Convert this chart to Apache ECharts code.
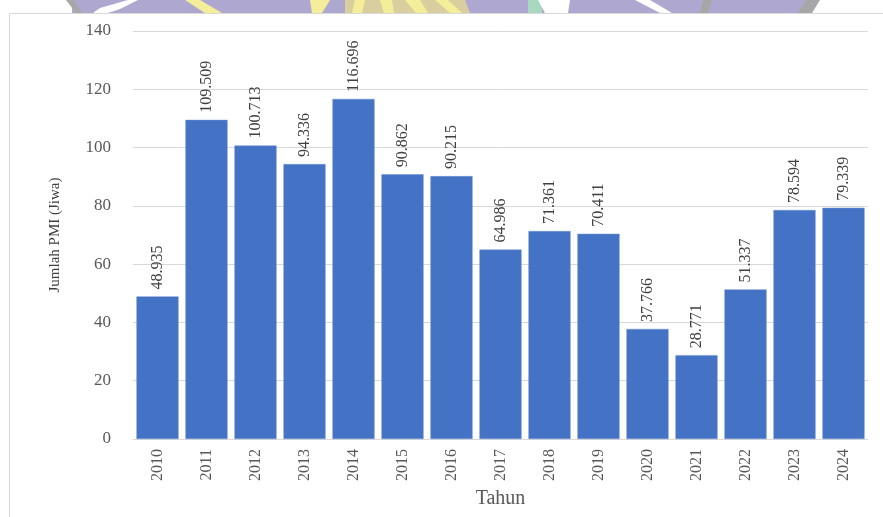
<!DOCTYPE html>
<html>
<head>
<meta charset="utf-8">
<script src="https://cdn.jsdelivr.net/npm/echarts@6/dist/echarts.min.js"></script>
<style>
html,body{margin:0;padding:0;background:#fff;}
#chart{width:883px;height:517px;}
</style>
</head>
<body>
<div id="chart"></div>
<script>
const years = ['2010','2011','2012','2013','2014','2015','2016','2017','2018','2019','2020','2021','2022','2023','2024'];
const pmiValues = [48.935, 109.509, 100.713, 94.336, 116.696, 90.862, 90.215, 64.986, 71.361, 70.411, 37.766, 28.771, 51.337, 78.594, 79.339];
const yTicks = { min: 0, max: 140, interval: 20 };
const yAxisTitle = 'Jumlah PMI (Jiwa)';
const xAxisTitle = 'Tahun';

const serif = '"Liberation Serif", "Times New Roman", serif';
const chart = echarts.init(document.getElementById('chart'), null, { renderer: 'canvas' });

chart.setOption({
  backgroundColor: '#ffffff',
  animation: false,
  graphic: [
    // faded watermark strip above the frame
    { type: 'rect', z: -10, shape: { x: 72, y: 0, width: 735, height: 13 }, style: { fill: '#aea8d0' } },
    { type: 'polygon', z: -9, shape: { points: [[93,13],[100,8],[128,0],[138,0],[120,9],[108,13]] }, style: { fill: '#ffffff' } },
    { type: 'polygon', z: -9, shape: { points: [[185,0],[200,0],[222,13],[205,13]] }, style: { fill: '#f4ee9a' } },
    { type: 'polygon', z: -9, shape: { points: [[310,0],[330,0],[322,13],[312,13]] }, style: { fill: '#f4ee9a' } },
    { type: 'polygon', z: -9, shape: { points: [[345,0],[465,0],[470,13],[345,13]] }, style: { fill: '#d9cf9e' } },
    { type: 'polygon', z: -9, shape: { points: [[355,0],[365,0],[362,13],[352,13]] }, style: { fill: '#f4ee9a' } },
    { type: 'polygon', z: -9, shape: { points: [[380,0],[392,0],[394,13],[384,13]] }, style: { fill: '#f4ee9a' } },
    { type: 'polygon', z: -9, shape: { points: [[405,0],[420,0],[428,13],[416,13]] }, style: { fill: '#f4ee9a' } },
    { type: 'polygon', z: -9, shape: { points: [[435,0],[448,0],[462,13],[450,13]] }, style: { fill: '#f4ee9a' } },
    { type: 'rect', z: -9, shape: { x: 528, y: 0, width: 14, height: 13 }, style: { fill: '#a9d8c0' } },
    { type: 'polygon', z: -9, shape: { points: [[538,0],[570,0],[568,13],[545,13]] }, style: { fill: '#ffffff' } },
    { type: 'polygon', z: -9, shape: { points: [[635,0],[650,0],[672,13],[660,13]] }, style: { fill: '#ffffff' } },
    { type: 'polygon', z: -9, shape: { points: [[66,0],[74,0],[82,13],[76,13]] }, style: { fill: '#a7a7a7' } },
    { type: 'polygon', z: -9, shape: { points: [[703,0],[712,0],[708,13],[700,13]] }, style: { fill: '#a7a7a7' } },
    { type: 'polygon', z: -9, shape: { points: [[806,0],[820,0],[812,13],[798,13]] }, style: { fill: '#a7a7a7' } },
    // chart frame
    { type: 'rect', z: -5, shape: { x: 9.5, y: 13.5, width: 890, height: 520 }, style: { fill: '#ffffff', stroke: '#d9d9d9', lineWidth: 1 } }
  ],
  grid: { left: 133, right: 15, top: 31, bottom: 78, containLabel: false },
  xAxis: {
    type: 'category',
    data: years,
    name: xAxisTitle,
    nameLocation: 'middle',
    nameGap: 45,
    nameTextStyle: { fontFamily: serif, fontSize: 20, color: '#595959' },
    axisLine: { show: true, lineStyle: { color: '#d9d9d9', width: 1 } },
    axisTick: { show: false },
    axisLabel: { rotate: 90, margin: 10, fontFamily: serif, fontSize: 16, color: '#595959', interval: 0 }
  },
  yAxis: {
    type: 'value',
    min: yTicks.min,
    max: yTicks.max,
    interval: yTicks.interval,
    name: yAxisTitle,
    nameLocation: 'middle',
    nameGap: 70,
    nameTextStyle: { fontFamily: serif, fontSize: 15, color: '#404040' },
    axisLine: { show: false },
    axisTick: { show: false },
    axisLabel: { margin: 22, fontFamily: serif, fontSize: 17, color: '#595959' },
    splitLine: { lineStyle: { color: '#d9d9d9', width: 1 } }
  },
  series: [{
    type: 'bar',
    data: pmiValues,
    barCategoryGap: '14%',
    itemStyle: { color: '#4472c4', borderColor: '#6f93d3', borderWidth: 0.5 },
    label: {
      show: true,
      position: 'top',
      rotate: 90,
      align: 'left',
      verticalAlign: 'middle',
      distance: 7,
      fontFamily: serif,
      fontSize: 16,
      color: '#404040',
      formatter: p => p.value.toFixed(3)
    }
  }]
});
</script>
</body>
</html>
